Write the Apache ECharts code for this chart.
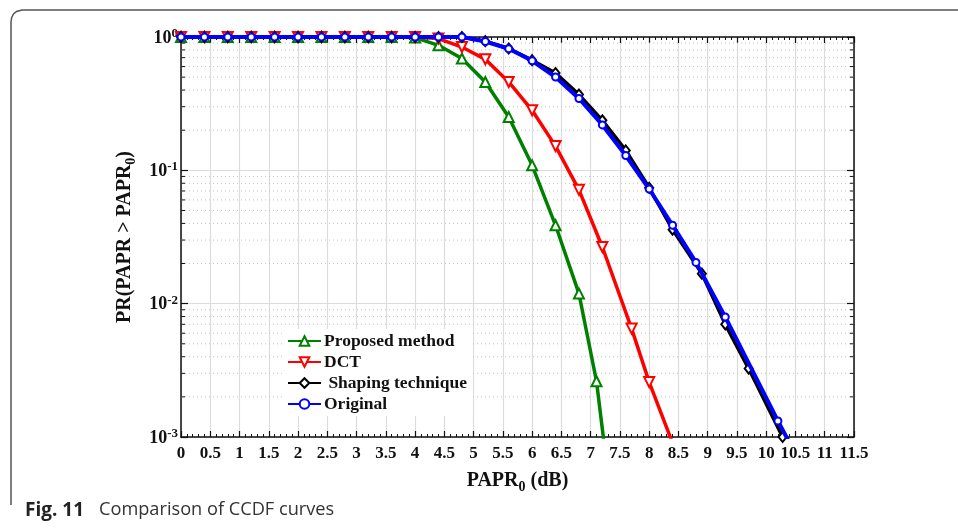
<!DOCTYPE html>
<html>
<head>
<meta charset="utf-8">
<script src="https://cdn.jsdelivr.net/npm/echarts@6/dist/echarts.min.js"></script>
<style>
html,body{margin:0;padding:0;background:#fff;}
#chart{width:958px;height:531px;}
</style>
</head>
<body>
<div id="chart"></div>
<script>
// ---- data ----
const seriesNames = ['Proposed method', 'DCT', ' Shaping technique', 'Original'];

const xProposed = [0,0.4,0.8,1.2,1.6,2.0,2.4,2.8,3.2,3.6,4.0,4.4,4.8,5.2,5.6,6.0,6.4,6.8,7.1,7.3];
const yProposed = [1,1,1,1,1,1,1,1,1,1,0.99,0.866,0.689,0.46,0.251,0.109,0.0387,0.0119,0.00262,0.0005];

const xDCT = [0,0.4,0.8,1.2,1.6,2.0,2.4,2.8,3.2,3.6,4.0,4.4,4.8,5.2,5.6,6.0,6.4,6.8,7.2,7.7,8.0,8.4];
const yDCT = [1,1,1,1,1,1,1,1,1,1,1,0.973,0.841,0.68,0.46,0.282,0.152,0.0714,0.0266,0.0065,0.00258,0.0009];

const xShaping = [0,0.4,0.8,1.2,1.6,2.0,2.4,2.8,3.2,3.6,4.0,4.4,4.8,5.2,5.6,6.0,6.4,6.8,7.2,7.6,8.0,8.4,8.9,9.3,9.7,10.28];
const yShaping = [1,1,1,1,1,1,1,1,1,1,1,1,1,0.93,0.82,0.67,0.537,0.370,0.237,0.141,0.074,0.0359,0.0168,0.0070,0.00326,0.001];

const xOriginal = [0,0.4,0.8,1.2,1.6,2.0,2.4,2.8,3.2,3.6,4.0,4.4,4.8,5.2,5.6,6.0,6.4,6.8,7.2,7.6,8.0,8.4,8.8,9.3,10.2,10.4];
const yOriginal = [1,1,1,1,1,1,1,1,1,1,1,1,1,0.924,0.816,0.663,0.501,0.346,0.219,0.129,0.0724,0.0387,0.0204,0.00794,0.00132,0.0009];

// minor (dotted) grid / tick positions of the log axis
const yMinorTicks = [0.002,0.003,0.004,0.005,0.006,0.007,0.008,0.009,
                     0.02,0.03,0.04,0.05,0.06,0.07,0.08,0.09,
                     0.2,0.3,0.4,0.5,0.6,0.7,0.8,0.9];

const xMin = 0, xMax = 11.5, xStep = 0.5;
const yMin = 0.001, yMax = 1;

// ---- build ----
function zip(xs, ys){ return xs.map((x,i)=>[x, ys[i]]); }

const serif = '"Liberation Serif", "Times New Roman", serif';
const sans = '"Open Sans", "Noto Sans", sans-serif';
const chart = echarts.init(document.getElementById('chart'), null, {renderer:'canvas'});

const lineBase = {
  type:'line', xAxisIndex:0, yAxisIndex:0, clip:true, smooth:false,
  symbolKeepAspect:true, animation:false
};

const option = {
  animation:false,
  backgroundColor:'#fff',
  grid:{left:181, right:104, top:37, bottom:94, containLabel:false},
  xAxis:[{
    type:'value', min:xMin, max:xMax, interval:xStep, position:'bottom',
    axisLine:{show:true, onZero:false, lineStyle:{color:'#111', width:1.5}},
    axisTick:{show:true, inside:true, length:6, lineStyle:{color:'#111', width:1.2}},
    minorTick:{show:true, splitNumber:5, length:3, lineStyle:{color:'#111', width:1}},
    splitLine:{show:true, lineStyle:{color:'#dcdcdc', width:1.2}},
    axisLabel:{show:true, margin:8, color:'#111', fontFamily:serif, fontWeight:'bold', fontSize:17,
      formatter:function(v){ return String(v); }},
    name:'{a|PAPR}{sub|0}{a| (dB)}', nameLocation:'middle', nameGap:31,
    nameTextStyle:{rich:{
      a:{fontFamily:serif, fontWeight:'bold', fontSize:20, color:'#111'},
      sub:{fontFamily:serif, fontWeight:'bold', fontSize:14, color:'#111', padding:[12,0,0,0]}
    }}
  },{
    type:'value', min:xMin, max:xMax, interval:xStep, position:'top',
    axisLine:{show:true, onZero:false, lineStyle:{color:'#111', width:1.5}},
    axisTick:{show:true, inside:true, length:6, lineStyle:{color:'#111', width:1.2}},
    minorTick:{show:true, splitNumber:5, length:3, lineStyle:{color:'#111', width:1}},
    splitLine:{show:false}, axisLabel:{show:false}
  }],
  yAxis:[{
    type:'log', logBase:10, min:yMin, max:yMax, position:'left',
    axisLine:{show:true, onZero:false, lineStyle:{color:'#111', width:1.5}},
    axisTick:{show:true, inside:true, length:7, lineStyle:{color:'#111', width:1.2}},
    splitLine:{show:true, lineStyle:{color:'#dcdcdc', width:1.2}},
    axisLabel:{show:true, margin:3,
      formatter:function(v){ const e = Math.round(Math.log10(v)); return '{b|10}{s|' + e + '}'; },
      rich:{
        b:{fontFamily:serif, fontWeight:'bold', fontSize:18, color:'#111', verticalAlign:'bottom', lineHeight:20},
        s:{fontFamily:serif, fontWeight:'bold', fontSize:13, color:'#111', verticalAlign:'top', lineHeight:20}
      }},
    name:'{a|PR(PAPR > PAPR}{sub|0}{a|)}', nameLocation:'middle', nameGap:40, nameRotate:90,
    nameTextStyle:{rich:{
      a:{fontFamily:serif, fontWeight:'bold', fontSize:20, color:'#111'},
      sub:{fontFamily:serif, fontWeight:'bold', fontSize:14, color:'#111', padding:[12,0,0,0]}
    }}
  },{
    type:'log', logBase:10, min:yMin, max:yMax, position:'right',
    axisLine:{show:true, onZero:false, lineStyle:{color:'#111', width:1.5}},
    axisTick:{show:true, inside:true, length:7, lineStyle:{color:'#111', width:1.2}},
    splitLine:{show:false}, axisLabel:{show:false}
  }],
  legend:{
    data:seriesNames, orient:'vertical', left:283, top:329,
    backgroundColor:'#fff', padding:[3,6,3,4], itemWidth:33, itemHeight:12, itemGap:3,
    textStyle:{fontFamily:serif, fontWeight:'bold', fontSize:17.5, color:'#111', padding:[0,0,0,-2]},
    selectedMode:false
  },
  graphic:[
    {type:'polyline', silent:true, z:100,
      shape:{points:[[11,505],[11,22],[11.7,17.5],[13.5,14],[16.5,11.5],[22,10],[958,10]]},
      style:{stroke:'#555', lineWidth:1.5, fill:null}},
    {type:'text', left:25, top:501, silent:true,
      style:{text:'Fig. 11', fontFamily:sans, fontWeight:'bold', fontSize:19, fill:'#222'}},
    {type:'text', left:99, top:501, silent:true,
      style:{text:'Comparison of CCDF curves', fontFamily:sans, fontWeight:'normal', fontSize:18.2, fill:'#333'}}
  ],
  series:[
    {
      type:'custom', name:'minorGrid', xAxisIndex:0, yAxisIndex:0, silent:true, z:1,
      data: yMinorTicks.map(v=>[xMin, v]),
      renderItem:function(params, api){
        const y = api.value(1);
        const p0 = api.coord([xMin, y]);
        const p1 = api.coord([xMax, y]);
        return {type:'group', children:[
          {type:'line', shape:{x1:p0[0], y1:p0[1], x2:p1[0], y2:p1[1]},
           style:{stroke:'#c4c4c4', lineWidth:1, lineDash:[1,3]}},
          {type:'line', shape:{x1:p0[0], y1:p0[1], x2:p0[0]+4, y2:p0[1]},
           style:{stroke:'#111', lineWidth:1}},
          {type:'line', shape:{x1:p1[0]-4, y1:p1[1], x2:p1[0], y2:p1[1]},
           style:{stroke:'#111', lineWidth:1}}
        ]};
      }
    },
    Object.assign({}, lineBase, {
      name:seriesNames[0], data:zip(xProposed, yProposed), z:3,
      symbol:'emptyTriangle', symbolSize:10,
      lineStyle:{color:'#008000', width:3.5}, itemStyle:{color:'#008000', borderColor:'#008000', borderWidth:3}
    }),
    Object.assign({}, lineBase, {
      name:seriesNames[1], data:zip(xDCT, yDCT), z:4,
      symbol:'emptyTriangle', symbolSize:10, symbolRotate:180,
      lineStyle:{color:'#ff0000', width:3.5}, itemStyle:{color:'#ff0000', borderColor:'#ff0000', borderWidth:3}
    }),
    Object.assign({}, lineBase, {
      name:seriesNames[2], data:zip(xShaping, yShaping), z:5,
      symbol:'emptyDiamond', symbolSize:[8,10],
      lineStyle:{color:'#000000', width:3.5}, itemStyle:{color:'#000000', borderColor:'#000000', borderWidth:3}
    }),
    Object.assign({}, lineBase, {
      name:seriesNames[3], data:zip(xOriginal, yOriginal), z:6,
      symbol:'emptyCircle', symbolSize:7,
      lineStyle:{color:'#0000ff', width:4}, itemStyle:{color:'#0000ff', borderColor:'#0000ff', borderWidth:3}
    })
  ]
};
chart.setOption(option);
</script>
</body>
</html>
